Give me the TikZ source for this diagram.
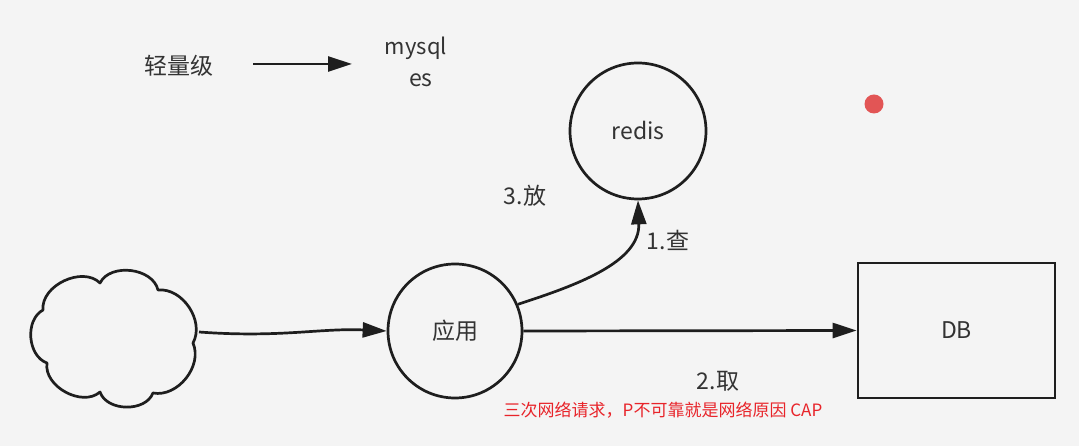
\documentclass[tikz,border=0pt]{standalone}
\usepackage{fontspec}
\setmainfont{Noto Sans CJK SC}
\usetikzlibrary{arrows.meta}
\definecolor{bg}{HTML}{F4F4F4}
\definecolor{ink}{HTML}{1E1E1E}
\definecolor{txt}{HTML}{333333}
\definecolor{redtxt}{HTML}{E8242A}
\definecolor{dot}{HTML}{E25555}
\tikzset{
  stroke/.style={draw=ink, line width=2.7pt},
  circ/.style={stroke, circle, minimum size=#1, inner sep=0pt, font=\fontsize{23}{26}\selectfont, text=txt},
  lbl/.style={font=\fontsize{23}{26}\selectfont, text=txt, inner sep=0pt},
  conn/.style={stroke, -{Triangle[length=24pt,width=15pt]}},
}
\begin{document}
\begin{tikzpicture}[x=1pt,y=1pt]
\fill[bg] (0,0) rectangle (1079,446);
\useasboundingbox (0,0) rectangle (1079,446);
% cloud
\draw[stroke, line join=round] (43,136) to[bend left=70] (100,163) to[bend left=70] (158,156)
  to[bend left=62] (193,103) to[bend left=62] (153,53) to[bend left=70] (100,54)
  to[bend left=70] (47,83) to[bend left=66] cycle;
\coordinate (cloudR) at (199,114);
% nodes
\node[circ=134pt] (app) at (455,115) {应用};
\node[circ=136pt] (redis) at (638,315) {redis};
\node[stroke, rectangle, minimum width=197pt, minimum height=135pt, inner sep=0pt, lbl] (db) at (956.5,115.5) {DB};
\node[lbl] (light) at (179,380) {轻量级};
\node[lbl, font=\fontsize{22}{26}\selectfont] (mysql) at (416,398) {mysql};
\node[lbl] (es) at (421,366) {es};
\coordinate (la) at (253,382);
\coordinate (lb) at (352,382);
\node[lbl] (put) at (525,250) {3.放};
\node[lbl] (check) at (668,206) {1.查};
\node[lbl] (take) at (718,65) {2.取};
\node[inner sep=0pt, text=redtxt, font=\fontsize{17}{20}\selectfont] (note) at (663,36) {三次网络请求，P不可靠就是网络原因 CAP};
\fill[dot] (874,342) circle (9.5pt);
% connectors
\draw[conn] (la) -- (lb);
\draw[conn] (cloudR) .. controls (280,108) and (320,118) .. (app.west);
\draw[conn] (app.east) -- (db.west);
\draw[conn] (app.23) to[out=18, in=-88] (redis.south);
\end{tikzpicture}
\end{document}
